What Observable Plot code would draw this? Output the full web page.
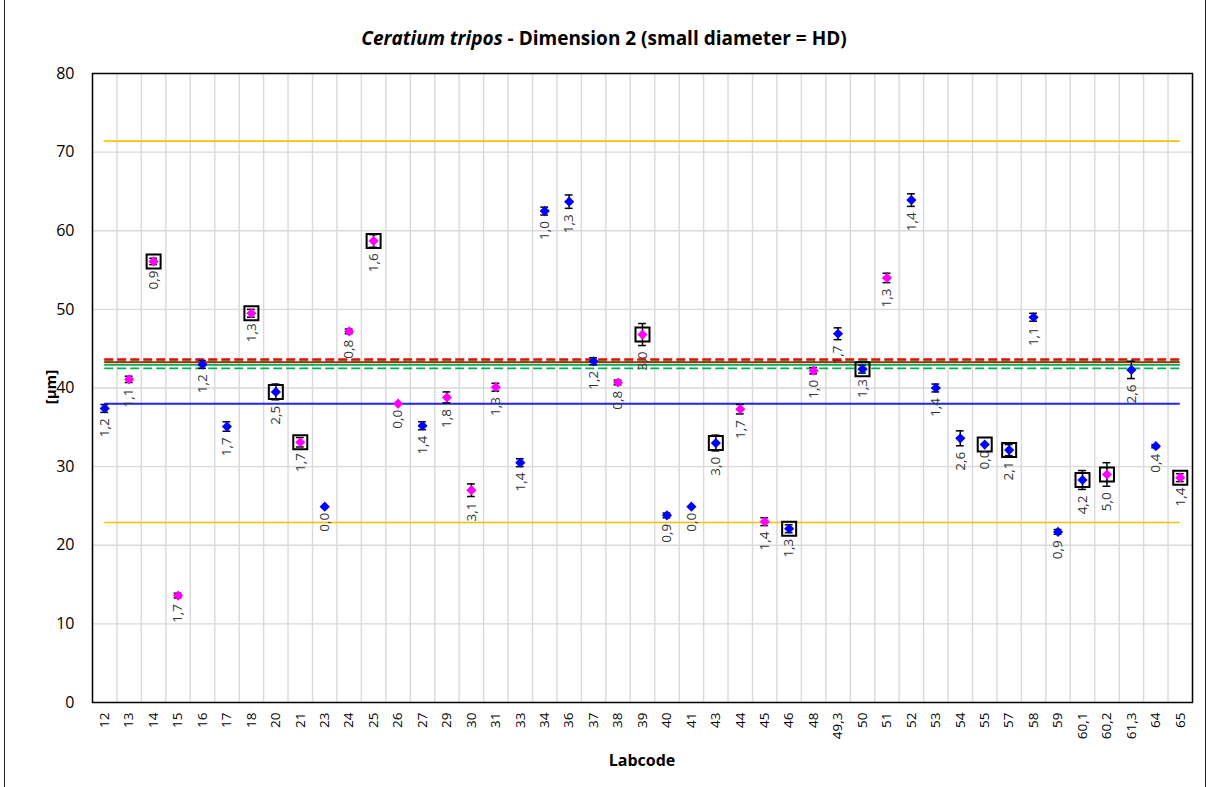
<!DOCTYPE html>
<html><head><meta charset="utf-8">
<script src="https://cdn.jsdelivr.net/npm/d3@7"></script>
<script src="https://cdn.jsdelivr.net/npm/@observablehq/plot@0.6"></script>
<style>
body{margin:0;background:#fff;font-family:"Open Sans",sans-serif;}
#wrap{position:relative;width:1208px;height:787px;overflow:hidden;}
#title{position:absolute;top:26px;left:0;width:1208px;text-align:center;font-weight:bold;font-size:19px;line-height:24px;color:#000;}
#ylab{position:absolute;left:50px;top:387px;transform:translate(-50%,-50%) rotate(-90deg);font-weight:bold;font-size:15px;color:#000;white-space:nowrap;}
#xlab{position:absolute;left:642px;top:760px;transform:translate(-50%,-50%);font-weight:bold;font-size:16px;color:#000;}
#border{position:absolute;left:4px;top:-5px;width:1200px;height:800px;border-left:1.5px solid #222;border-right:1.5px solid #222;pointer-events:none;}
#chart{position:absolute;left:0;top:0;}
</style></head>
<body><div id="wrap"><div id="chart"></div>
<div id="title"><i>Ceratium tripos</i> - Dimension 2 (small diameter = HD)</div>
<div id="ylab">[µm]</div><div id="xlab">Labcode</div><div id="border"></div></div>
<script>
const labcodes = ["12","13","14","15","16","17","18","20","21","23","24","25","26","27","29","30","31","33","34","36","37","38","39","40","41","43","44","45","46","48","49,3","50","51","52","53","54","55","57","58","59","60,1","60,2","61,3","64","65"];
const means = [37.4,41.1,56.1,13.6,43.0,35.1,49.5,39.5,33.1,24.9,47.2,58.7,38.0,35.2,38.8,27.0,40.1,30.5,62.5,63.7,43.4,40.7,46.8,23.8,24.9,33.0,37.3,23.0,22.1,42.2,46.9,42.4,54.0,63.9,40.0,33.6,32.8,32.1,49.0,21.7,28.3,29.0,42.3,32.6,28.6];
const errs = [0.5,0.4,0.4,0.3,0.5,0.6,0.5,1.0,0.6,0,0.3,0.8,0,0.5,0.7,0.8,0.5,0.5,0.5,0.85,0.45,0.3,1.4,0.3,0,1.0,0.6,0.5,0.5,0.4,0.75,0.5,0.6,0.8,0.5,0.95,0,0.7,0.5,0.3,1.2,1.5,1.1,0.2,0.5];
const sdLabels = ["1,2","1,1","0,9","1,7","1,2","1,7","1,3","2,5","1,7","0,0","0,8","1,6","0,0","1,4","1,8","3,1","1,3","1,4","1,0","1,3","1,2","0,8","3,0","0,9","0,0","3,0","1,7","1,4","1,3","1,0","1,7","1,3","1,3","1,4","1,4","2,6","0,0","2,1","1,1","0,9","4,2","5,0","2,6","0,4","1,4"];
const groups = ["B","M","M","M","B","B","M","B","M","B","M","M","M","B","M","M","M","B","B","B","B","M","M","B","B","B","M","M","B","M","B","B","M","B","B","B","B","B","B","B","B","M","B","B","M"];
const boxed = [0,0,1,0,0,0,1,1,1,0,0,1,0,0,0,0,0,0,0,0,0,0,1,0,0,1,0,0,1,0,0,1,0,0,0,0,1,1,0,0,1,1,0,0,1];
const yTicks = [0,10,20,30,40,50,60,70,80];
const limitLines = [71.4, 22.9];
const medianLine = [38.0];
const assignedLine = [43.3];
const assignedUnc = [43.66];
const consensusLine = [42.96];
const consensusUnc = [43.45, 42.5];

const idx = labcodes.map((d, i) => i);
const rows = labcodes.map((code, i) => ({i, code, v: means[i], e: errs[i], sd: sdLabels[i], g: groups[i], box: boxed[i]}));
const withErr = rows.filter(d => d.e > 0);
const first = 0, last = labcodes.length - 1;
const lineOpts = {x1: first, x2: last};

const chart = Plot.plot({
  width: 1208, height: 787,
  marginLeft: 92, marginRight: 16, marginTop: 73, marginBottom: 85,
  style: {fontFamily: "Open Sans", background: "transparent", color: "#333"},
  x: {type: "linear", domain: [-0.5, labcodes.length - 0.5]},
  y: {domain: [0, 80]},
  marks: [
    Plot.ruleY(yTicks.slice(1, -1), {stroke: "#d9d9d9", strokeWidth: 1.4}),
    Plot.ruleX(d3.range(-0.5, labcodes.length, 1), {stroke: "#d9d9d9", strokeWidth: 1.4}),
    Plot.ruleY(limitLines, {...lineOpts, stroke: "#FFC000", strokeWidth: 1.6}),
    Plot.ruleY(medianLine, {...lineOpts, stroke: "#2222FF", strokeWidth: 1.8}),
    Plot.ruleY(consensusUnc, {...lineOpts, stroke: "#00B050", strokeWidth: 1.8, strokeDasharray: "9,4"}),
    Plot.ruleY(assignedUnc, {...lineOpts, stroke: "#FF0000", strokeWidth: 1.8, strokeDasharray: "9,4"}),
    Plot.ruleY(assignedLine, {...lineOpts, stroke: "#FF0000", strokeWidth: 1.8}),
    Plot.ruleY(consensusLine, {...lineOpts, stroke: "#00B050", strokeWidth: 1.8}),
    Plot.dot(rows.filter(d => d.box), {x: "i", y: "v", symbol: "square", r: 7.9, fill: "none", stroke: "#000", strokeWidth: 2}),
    Plot.ruleX(withErr, {x: "i", y1: d => d.v - d.e, y2: d => d.v + d.e, stroke: "#000", strokeWidth: 1.5}),
    Plot.ruleY(withErr, {x1: d => d.i - 0.16, x2: d => d.i + 0.16, y: d => d.v + d.e, stroke: "#000", strokeWidth: 1.5}),
    Plot.ruleY(withErr, {x1: d => d.i - 0.16, x2: d => d.i + 0.16, y: d => d.v - d.e, stroke: "#000", strokeWidth: 1.5}),
    Plot.dot(rows, {x: "i", y: "v", symbol: "diamond2", r: 4.6, fill: d => d.g === "B" ? "#0000FF" : "#FF00FF", stroke: "none"}),
    Plot.text(rows, {x: "i", y: d => d.v - d.e, text: "sd", rotate: -90, textAnchor: "end", dy: 6, fontSize: 13.5, fill: "#333"}),
    Plot.frame({stroke: "#000", strokeWidth: 1.5}),
    Plot.axisY(yTicks, {tickSize: 0, tickPadding: 18, fontSize: 16, label: null, fill: "#000"}),
    Plot.axisX(idx, {tickFormat: i => labcodes[i], tickRotate: -90, tickSize: 0, tickPadding: 10, fontSize: 13.5, label: null, fill: "#000"})
  ]
});
document.getElementById("chart").appendChild(chart);
</script>
</body></html>
